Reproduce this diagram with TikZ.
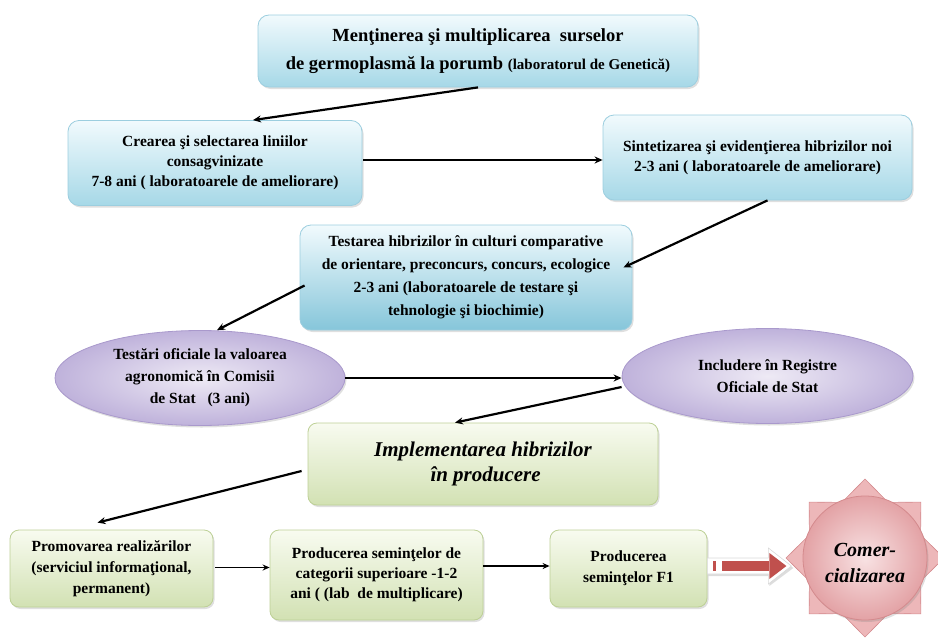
\documentclass[tikz,border=0pt]{standalone}
\usepackage{fontspec}
\setmainfont{Liberation Serif}
\usetikzlibrary{shadows,calc,arrows.meta,shapes.geometric}
\definecolor{bluetop}{HTML}{F1FAFD}
\definecolor{bluebot}{HTML}{A6D8E7}
\definecolor{bluebd}{HTML}{9CCEDF}
\definecolor{blue2}{HTML}{86C6DA}
\definecolor{purin}{HTML}{EEEAF5}
\definecolor{purout}{HTML}{BFB2DB}
\definecolor{purbd}{HTML}{A999CC}
\definecolor{grtop}{HTML}{F8FBF0}
\definecolor{grbot}{HTML}{D2E1B3}
\definecolor{grbd}{HTML}{BDD096}
\definecolor{pkin}{HTML}{F8E2E3}
\definecolor{pkout}{HTML}{E3A2A5}
\definecolor{pkbd}{HTML}{D48A8D}
\definecolor{pktri}{HTML}{EDB7B9}
\definecolor{redar}{HTML}{C0504D}
\begin{document}
\begin{tikzpicture}[x=1pt,y=-1pt,
  shad/.style={drop shadow={opacity=0.25,shadow xshift=1.5pt,shadow yshift=-2pt}},
  bluebox/.style={shad,rounded corners=11pt,draw=bluebd,line width=0.8pt,top color=bluetop,bottom color=bluebot,align=center,inner sep=0pt,font=\bfseries\fontsize{15.5}{20}\selectfont},
  ellnode/.style={shad,ellipse,draw=purbd,line width=0.8pt,inner color=purin,outer color=purout,align=center,inner sep=0pt,font=\bfseries\fontsize{15.5}{22}\selectfont},
  greenbox/.style={shad,rounded corners=9pt,draw=grbd,line width=0.8pt,top color=grtop,bottom color=grbot,align=center,inner sep=0pt,font=\bfseries\fontsize{15.5}{21}\selectfont},
  arr/.style={line width=2.2pt,-{Stealth[length=8pt,width=7pt]}},
  thinarr/.style={line width=1.5pt,-{Stealth[length=7pt,width=6pt]}},
  startri/.style={fill=pktri,draw=pkbd,line width=0.6pt,line join=round}
]
\useasboundingbox (0,0) rectangle (938,640);

% top box
\node[bluebox,minimum width=440,minimum height=72,font=\bfseries\fontsize{18.5}{28}\selectfont] (b1) at (478,51)
  {Menţinerea şi multiplicarea~ surselor\\de germoplasmă la porumb {\fontsize{15}{28}\selectfont(laboratorul de Genetică)}};

\node[bluebox,minimum width=294,minimum height=85] (b2) at (215,163)
  {Crearea şi selectarea liniilor\\consagvinizate\\7-8 ani ( laboratoarele de ameliorare)};

\node[bluebox,minimum width=309,minimum height=85] (b3) at (757.5,157.5)
  {Sintetizarea şi evidenţierea hibrizilor noi\\2-3 ani ( laboratoarele de ameliorare)};

\node[bluebox,bottom color=blue2,minimum width=332,minimum height=105,font=\bfseries\fontsize{15.5}{23}\selectfont] (b4) at (466,277.5)
  {Testarea hibrizilor în culturi comparative\\de orientare, preconcurs, concurs, ecologice\\2-3 ani (laboratoarele de testare şi\\tehnologie şi biochimie)};

\node[ellnode,minimum width=290,minimum height=95] (e1) at (200,378)
  {Testări oficiale la valoarea\\agronomică în Comisii\\de Stat~~ (3 ani)};

\node[ellnode,minimum width=291,minimum height=95] (e2) at (767.5,376)
  {Includere în Registre\\Oficiale de Stat};

\node[greenbox,minimum width=350,minimum height=82,font=\bfseries\itshape\fontsize{21}{25}\selectfont] (impl) at (483,464)
  {Implementarea hibrizilor\\~în producere};

\node[greenbox,minimum width=203,minimum height=77] (prom) at (111.5,568.5)
  {Promovarea realizărilor\\(serviciul informaţional,\\permanent)};

\node[greenbox,minimum width=213,minimum height=90,font=\bfseries\fontsize{15.5}{20}\selectfont] (prod) at (376.5,575)
  {Producerea seminţelor de\\categorii superioare -1-2\\ani ( (lab~ de multiplicare)};

\node[greenbox,minimum width=157,minimum height=77] (f1) at (628.5,568.5)
  {Producerea\\seminţelor F1};

% star
\coordinate (sc) at (865,558);
\foreach \a in {0,45,...,315}
  \draw[startri] ($(sc)+(\a-23:60)$) -- ($(sc)+(\a:79)$) -- ($(sc)+(\a+23:60)$) -- cycle;
\node[circle,shad,draw=pkbd,line width=0.8pt,inner color=pkin,outer color=pkout,minimum size=124,inner sep=0pt,align=center,font=\bfseries\itshape\fontsize{20}{25}\selectfont] (com) at (sc) {\raisebox{-6pt}[\height][\depth]{\begin{tabular}{@{}c@{}}Comer-\\[1pt]cializarea\end{tabular}}};

% red block arrow
\begin{scope}[shift={($(f1.east)+(0,-2.5)$)}]
  \fill[gray!45,opacity=0.6] (1,-6) -- (62,-6) -- (62,-16) -- (86,2) -- (62,20) -- (62,10) -- (1,10) -- cycle;
  \draw[fill=white,draw=gray!30,line width=0.6pt] (0,-8) -- (61,-8) -- (61,-18) -- (84,0) -- (61,18) -- (61,8) -- (0,8) -- cycle;
  \fill[redar] (6,-5) rectangle (8.5,5);
  \fill[redar] (15,-5) rectangle (62,5);
  \fill[redar] (62,-13) -- (79,0) -- (62,13) -- cycle;
\end{scope}

% connectors
\draw[arr] (b1.south) -- ($(b2.north)+(38,0)$);
\draw[arr,line width=2.5pt] ($(b2.east)+(1,-3)$) coordinate (a2s) -- (a2s -| b3.west);
\draw[arr] ($(b3.south)+(10,0)$) -- ($(b4.east)+(-9,-10)$);
\draw[arr] ($(b4.west)+(5,8)$) -- ($(e1.north)+(17,0)$);
\draw[arr,line width=2.6pt] (e1.east) -- (e1.east -| e2.west);
\draw[arr] ($(e2.west)+(0,11)$) -- ($(impl.north)+(-28,0)$);
\draw[arr] ($(impl.west)+(-6,7)$) -- ($(prom.north)+(-14,-7)$);
\draw[thinarr] ($(prom.east)+(2,-1)$) coordinate (a8s) -- (a8s -| prod.west);
\draw[thinarr] ($(prod.east)+(0,-9)$) coordinate (a9s) -- (a9s -| f1.west);
\end{tikzpicture}
\end{document}
